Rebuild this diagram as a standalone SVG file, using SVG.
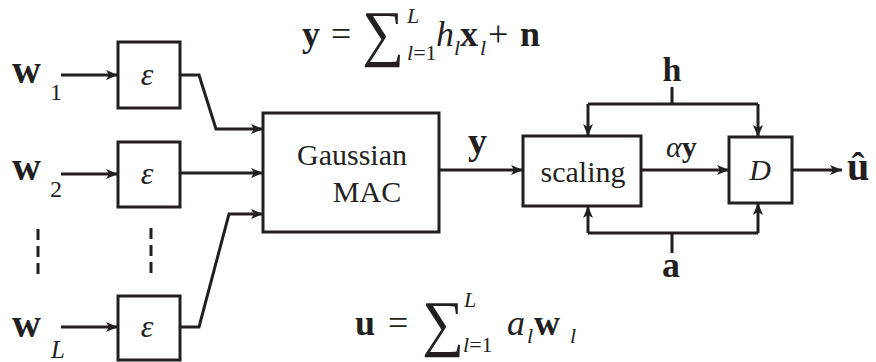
<svg xmlns="http://www.w3.org/2000/svg" width="876" height="362" viewBox="0 0 876 362" font-family="'Liberation Serif', 'Times New Roman', 'DejaVu Serif', serif">
<defs>
<marker id="ah" markerUnits="userSpaceOnUse" markerWidth="14" markerHeight="12" refX="12" refY="5" orient="auto">
<path d="M0,0 L12,5 L0,10 L3,5 Z" fill="#231f20"/>
</marker>
<style>
.box{fill:#fff;stroke:#231f20;stroke-width:3}
.ln{fill:none;stroke:#231f20;stroke-width:3}
.ar{fill:none;stroke:#231f20;stroke-width:3;marker-end:url(#ah)}
.dash{fill:none;stroke:#231f20;stroke-width:3;stroke-dasharray:11,6}
text{fill:#231f20}
.b{font-weight:bold}
.i{font-style:italic}
</style>
</defs>
<rect width="876" height="362" fill="#fff"/>

<g id="connectors">
<path class="ar" d="M61,75 H118"/>
<path class="ar" d="M61,174 H118"/>
<path class="ar" d="M61,327 H118"/>
<path class="ar" d="M180,75 H199 L216,129 H263"/>
<path class="ar" d="M180,173 H263"/>
<path class="ar" d="M180,327 H199 L229,214 H263"/>
<path class="dash" d="M38,229 V279"/>
<path class="dash" d="M151,228 V278"/>
<path class="ar" d="M439,170 H523"/>
<path class="ar" d="M641,170 H729"/>
<path class="ar" d="M792,170 H842"/>
<path class="ln" d="M672,87 V104 M588,104 H758"/>
<path class="ar" d="M588,104 V136"/>
<path class="ar" d="M758,104 V137"/>
<path class="ln" d="M672,253 V233 M588,233 H758"/>
<path class="ar" d="M588,233 V206"/>
<path class="ar" d="M758,233 V203"/>
</g>

<g id="enc1"><rect class="box" x="118" y="42" width="62" height="66"/><text class="i" x="147" y="85" font-size="32" text-anchor="middle">ε</text></g>
<g id="enc2"><rect class="box" x="118" y="142" width="62" height="65"/><text class="i" x="147" y="184" font-size="32" text-anchor="middle">ε</text></g>
<g id="encL"><rect class="box" x="118" y="296" width="62" height="64"/><text class="i" x="147" y="337" font-size="32" text-anchor="middle">ε</text></g>

<g id="mac"><rect class="box" x="263" y="113" width="176" height="119"/>
<text x="352" y="165" font-size="30" text-anchor="middle">Gaussian</text>
<text x="367" y="202" font-size="30" text-anchor="middle">MAC</text></g>

<g id="scaling"><rect class="box" x="523" y="136" width="118" height="70"/>
<text x="583" y="182" font-size="30" text-anchor="middle">scaling</text></g>

<g id="detector"><rect class="box" x="729" y="137" width="63" height="66"/>
<text class="i" x="760" y="180" font-size="30" text-anchor="middle">D</text></g>

<g id="labels">
<text class="b" x="12" y="83" font-size="40">w</text><text x="50" y="100" font-size="24">1</text>
<text class="b" x="12" y="180" font-size="40">w</text><text x="50" y="197" font-size="24">2</text>
<text class="b" x="12" y="337" font-size="40">w</text><text class="i" x="51" y="358" font-size="25">L</text>
<text class="b" x="468" y="154" font-size="38">y</text>
<text x="666" y="157" font-size="30"><tspan class="i">α</tspan><tspan class="b">y</tspan></text>
<text class="b" x="847" y="180" font-size="40">û</text>
<text class="b" x="672" y="81" font-size="34" text-anchor="middle">h</text>
<text class="b" x="671" y="277" font-size="36" text-anchor="middle">a</text>
</g>

<g id="eq-top">
<text class="b" x="302" y="46" font-size="36">y</text>
<text x="331" y="46" font-size="36">=</text>
<text x="0" y="0" font-size="62" transform="translate(362,54) scale(0.95,1)">∑</text>
<text class="i" x="407" y="23" font-size="22">L</text>
<text x="407" y="60" font-size="22"><tspan class="i">l</tspan>=1</text>
<text class="i" x="436" y="46" font-size="36">h</text>
<text class="i" x="454" y="55" font-size="22">l</text>
<text class="b" x="460" y="46" font-size="36">x</text>
<text class="i" x="480" y="55" font-size="22">l</text>
<text x="488" y="46" font-size="36">+</text>
<text class="b" x="520" y="46" font-size="36">n</text>
</g>

<g id="eq-bottom">
<text class="b" x="355" y="335" font-size="36">u</text>
<text x="388" y="335" font-size="36">=</text>
<text x="0" y="0" font-size="62" transform="translate(422,344) scale(0.95,1)">∑</text>
<text class="i" x="464" y="307" font-size="22">L</text>
<text x="463" y="352" font-size="22"><tspan class="i">l</tspan>=1</text>
<text class="i" x="507" y="335" font-size="36">a</text>
<text class="i" x="527" y="343" font-size="22">l</text>
<text class="b" x="534" y="335" font-size="36">w</text>
<text class="i" x="570" y="343" font-size="22">l</text>
</g>
</svg>
